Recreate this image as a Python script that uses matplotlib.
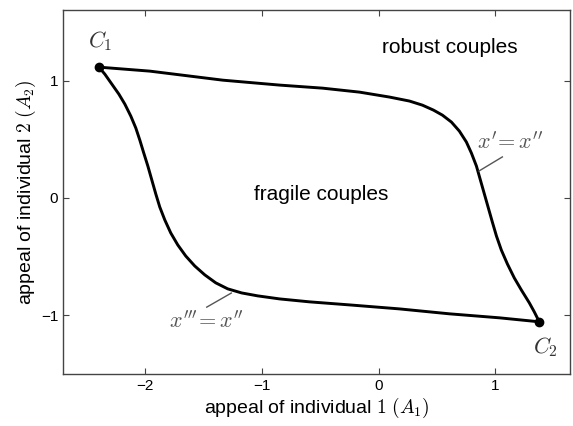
import numpy as np
import matplotlib
matplotlib.use('Agg')
import matplotlib.pyplot as plt

plt.rcParams['font.family'] = ['Liberation Sans', 'DejaVu Sans']
plt.rcParams['mathtext.fontset'] = 'cm'

# curve x'=x'' (upper/right branch)
upper_x = [-2.393, -1.957, -1.333, -0.846, -0.479, -0.162, 0.094, 0.265, 0.376, 0.470,
           0.547, 0.624, 0.692, 0.752, 0.795, 0.838, 0.872, 0.906, 0.940, 0.974,
           1.009, 1.051, 1.103, 1.162, 1.222, 1.291, 1.333, 1.376]
upper_y = [1.115, 1.081, 1.004, 0.962, 0.936, 0.902, 0.860, 0.826, 0.791, 0.749,
           0.706, 0.647, 0.570, 0.477, 0.383, 0.272, 0.153, 0.034, -0.085, -0.204,
           -0.323, -0.443, -0.562, -0.681, -0.783, -0.894, -0.970, -1.055]

# curve x'''=x'' (lower/left branch)
lower_x = [-2.393, -2.342, -2.282, -2.222, -2.171, -2.120, -2.077, -2.043, -2.009, -1.974,
           -1.940, -1.906, -1.872, -1.829, -1.778, -1.718, -1.650, -1.573, -1.487, -1.393,
           -1.291, -1.171, -1.034, -0.846, -0.590, -0.248, 0.179, 0.607, 1.034, 1.376]
lower_y = [1.115, 1.055, 0.970, 0.885, 0.800, 0.698, 0.596, 0.494, 0.383, 0.272,
           0.153, 0.034, -0.077, -0.187, -0.298, -0.400, -0.494, -0.579, -0.655, -0.723,
           -0.774, -0.809, -0.834, -0.860, -0.885, -0.911, -0.945, -0.987, -1.021, -1.055]

corner_x = [-2.393, 1.376]
corner_y = [1.115, -1.055]

fig = plt.figure(figsize=(5.73, 4.26), dpi=100)
ax = fig.add_axes([0.110, 0.122, 0.885, 0.854])

ax.plot(upper_x, upper_y, color='black', lw=2.1, solid_joinstyle='round')
ax.plot(lower_x, lower_y, color='black', lw=2.1, solid_joinstyle='round')
ax.plot(corner_x, corner_y, 'o', color='black', ms=6)

ax.text(-2.38, 1.34, '$C_1$', fontsize=16, ha='center', va='center', color='#333333')
ax.text(1.43, -1.27, '$C_2$', fontsize=16, ha='center', va='center', color='#333333')

ax.text(0.61, 1.285, 'robust couples', fontsize=15, ha='center', va='center')
ax.text(-0.49, 0.03, 'fragile couples', fontsize=15, ha='center', va='center')

ax.plot([1.06, 0.86], [0.35, 0.23], color='#555555', lw=1.0)
ax.text(1.13, 0.47, "$x'\\!=x''$", fontsize=16, ha='center', va='center', color='#555555')
ax.plot([-1.47, -1.26], [-0.93, -0.81], color='#555555', lw=1.0)
ax.text(-1.47, -1.06, "$x'''\\!=x''$", fontsize=16, ha='center', va='center', color='#555555')

ax.set_xlim(-2.7, 1.64)
ax.set_ylim(-1.5, 1.6)
ax.set_xticks([-2, -1, 0, 1])
ax.set_yticks([-1, 0, 1])
ax.set_xticklabels(['\u22122', '\u22121', '0', '1'])
ax.set_yticklabels(['\u22121', '0', '1'])
ax.tick_params(direction='in', top=True, right=True, labelsize=11, length=4, color='#444444')
for s in ax.spines.values():
    s.set_color('#444444')
    s.set_linewidth(1.0)

ax.set_xlabel('appeal of individual $1\\ (A_1)$', fontsize=14, labelpad=2)
ax.set_ylabel('appeal of individual $2\\ (A_2)$', fontsize=14, labelpad=2)

fig.savefig('out.png', dpi=100)
